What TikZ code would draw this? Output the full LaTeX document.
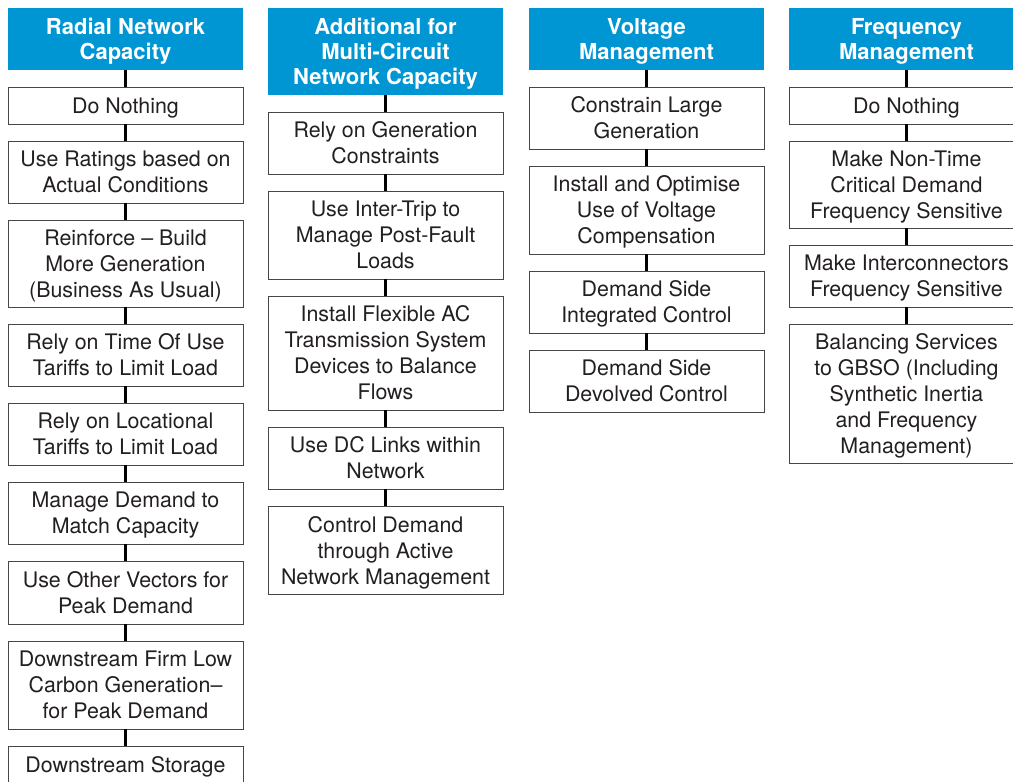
\documentclass[tikz,border=0pt]{standalone}
\usepackage{fontspec}
\setmainfont{TeX Gyre Heros}
\definecolor{hdrblue}{RGB}{0,149,211}
\definecolor{txtgray}{RGB}{35,31,32}
\definecolor{edgegray}{RGB}{70,70,70}
\begin{document}
\begin{tikzpicture}[x=1pt,y=-1pt,
  hdr/.style={fill=hdrblue, draw=none, minimum width=235pt, inner sep=0pt, align=center, text depth=0pt,
    text=white, font=\bfseries\fontsize{22}{25}\selectfont},
  opt/.style={fill=white, draw=edgegray, line width=0.9pt, minimum width=235pt, inner sep=0pt, align=center, text depth=0pt,
    text=txtgray, font=\fontsize{21.4}{26}\selectfont},
  link/.style={draw=black, line width=2.6pt}]
\useasboundingbox (0,0) rectangle (1013,782);
\clip (0,0) rectangle (1013,782);
\fill[white] (0,0) rectangle (1013,782);
% column 1
\node[hdr, minimum height=62pt] (h1) at (125.5,39) {Radial Network\\Capacity};
\node[opt, minimum height=37pt] (a1) at (125.5,105.5) {Do Nothing};
\node[opt, minimum height=62pt] (a2) at (125.5,172) {Use Ratings based on\\Actual Conditions};
\node[opt, minimum height=87pt] (a3) at (125.5,263.5) {Reinforce – Build\\More Generation\\(Business As Usual)};
\node[opt, minimum height=62pt] (a4) at (125.5,355) {Rely on Time Of Use\\Tariffs to Limit Load};
\node[opt, minimum height=62pt] (a5) at (125.5,434) {Rely on Locational\\Tariffs to Limit Load};
\node[opt, minimum height=62pt] (a6) at (125.5,513) {Manage Demand to\\Match Capacity};
\node[opt, minimum height=63pt] (a7) at (125.5,592.5) {Use Other Vectors for\\Peak Demand};
\node[opt, minimum height=88pt] (a8) at (125.5,685) {Downstream Firm Low\\Carbon Generation–\\for Peak Demand};
\node[opt, minimum height=37pt] (a9) at (125.5,764.5) {Downstream Storage};
% column 2
\node[hdr, minimum height=87pt] (h2) at (385.5,51.5) {Additional for\\Multi-Circuit\\Network Capacity};
\node[opt, minimum height=62pt] (b1) at (385.5,143) {Rely on Generation\\Constraints};
\node[opt, minimum height=88pt] (b2) at (385.5,235) {Use Inter-Trip to\\Manage Post-Fault\\Loads};
\node[opt, minimum height=114pt] (b3) at (385.5,353) {Install Flexible AC\\Transmission System\\Devices to Balance\\Flows};
\node[opt, minimum height=62pt] (b4) at (385.5,458) {Use DC Links within\\Network};
\node[opt, minimum height=88pt] (b5) at (385.5,550) {Control Demand\\through Active\\Network Management};
% column 3
\node[hdr, minimum height=62pt] (h3) at (646.5,39) {Voltage\\Management};
\node[opt, minimum height=62pt] (c1) at (646.5,118) {Constrain Large\\Generation};
\node[opt, minimum height=88pt] (c2) at (646.5,210) {Install and Optimise\\Use of Voltage\\Compensation};
\node[opt, minimum height=62pt] (c3) at (646.5,302) {Demand Side\\Integrated Control};
\node[opt, minimum height=62pt] (c4) at (646.5,381) {Demand Side\\Devolved Control};
% column 4
\node[hdr, minimum height=62pt] (h4) at (906.5,39) {Frequency\\Management};
\node[opt, minimum height=37pt] (d1) at (906.5,105.5) {Do Nothing};
\node[opt, minimum height=87pt] (d2) at (906.5,184.5) {Make Non-Time\\Critical Demand\\Frequency Sensitive};
\node[opt, minimum height=62pt] (d3) at (906.5,276) {Make Interconnectors\\Frequency Sensitive};
\node[opt, minimum height=139pt] (d4) at (906.5,393.5) {Balancing Services\\to GBSO (Including\\Synthetic Inertia\\and Frequency\\Management)};
% connectors
\foreach \u/\v in {h1/a1,a1/a2,a2/a3,a3/a4,a4/a5,a5/a6,a6/a7,a7/a8,a8/a9,
                   h2/b1,b1/b2,b2/b3,b3/b4,b4/b5,
                   h3/c1,c1/c2,c2/c3,c3/c4,
                   h4/d1,d1/d2,d2/d3,d3/d4}
  \draw[link] (\u.south) -- (\v.north);
\end{tikzpicture}
\end{document}
